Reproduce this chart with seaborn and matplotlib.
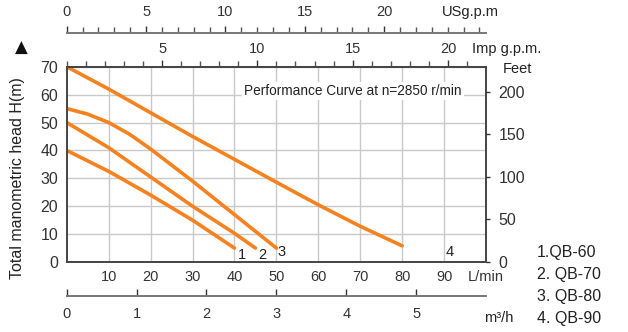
import numpy as np
import pandas as pd
import matplotlib
matplotlib.use("Agg")
import matplotlib.pyplot as plt
import seaborn as sns

# 曲线数据 (流量 L/min, 扬程 m)
flow_qb60 = [0, 10, 20, 30, 40]
head_qb60 = [40, 32.5, 24, 15, 5]
flow_qb70 = [0, 10, 20, 30, 40, 45]
head_qb70 = [50, 41, 30.5, 20, 10.3, 5]
flow_qb80 = [0, 5, 10, 15, 20, 30, 40, 50]
head_qb80 = [55, 53, 50, 45.8, 40.5, 29, 17, 5]
flow_qb90 = [0, 10, 20, 30, 40, 50, 60, 70, 80]
head_qb90 = [70, 62, 53.5, 45, 36.8, 28.6, 20.5, 12.8, 5.8]

curve_ids = ['1', '2', '3', '4']
curve_names = ['1.QB-60', '2. QB-70', '3. QB-80', '4. QB-90']
id_pos_x = [41.7, 46.6, 51.2, 91.4]
id_pos_y = [2.5, 2.5, 3.7, 3.5]

lpm_ticks = [10, 20, 30, 40, 50, 60, 70, 80, 90, 100]
lpm_labels = ['10', '20', '30', '40', '50', '60', '70', '80', '90', 'L/min']
head_ticks = [0, 10, 20, 30, 40, 50, 60, 70]
feet_ticks = [0, 50, 100, 150, 200]
usgpm_ticks = [0, 5, 10, 15, 20]
impgpm_ticks = [5, 10, 15, 20]
m3h_ticks = [0, 1, 2, 3, 4, 5]

sns.set_style("white")
plt.rcParams['font.family'] = ['Liberation Sans', 'DejaVu Sans']

df = pd.concat([
    pd.DataFrame({'flow': flow_qb60, 'head': head_qb60, 'model': 'QB-60'}),
    pd.DataFrame({'flow': flow_qb70, 'head': head_qb70, 'model': 'QB-70'}),
    pd.DataFrame({'flow': flow_qb80, 'head': head_qb80, 'model': 'QB-80'}),
    pd.DataFrame({'flow': flow_qb90, 'head': head_qb90, 'model': 'QB-90'}),
])

orange = '#F5821F'
dark = '#444444'
grid_c = '#c9c9c9'

fig = plt.figure(figsize=(6.28, 3.32), dpi=100)
ax = fig.add_axes([0.1062, 0.2108, 0.6678, 0.5883])

sns.lineplot(data=df, x='flow', y='head', units='model', estimator=None,
             color=orange, linewidth=2.6, ax=ax, legend=False)

ax.set_xlim(0, 100)
ax.set_ylim(0, 70)
ax.set_xticks(lpm_ticks)
ax.set_xticklabels(lpm_labels, fontsize=10.5)
ax.set_yticks(head_ticks)
ax.set_yticklabels([str(t) for t in head_ticks], fontsize=11.5)
ax.tick_params(axis='both', length=0, pad=6, colors='#333333')
ax.set_xlabel('')
ax.set_ylabel('')
ax.grid(True, color=grid_c, linewidth=1.0)
for s in ax.spines.values():
    s.set_color(dark)
    s.set_linewidth(1.4)

# 曲线编号
for cid, x, y in zip(curve_ids, id_pos_x, id_pos_y):
    ax.text(x, y, cid, fontsize=10.5, ha='center', va='center', color='#222222')

ax.text(0.683, 0.876, 'Performance Curve at n=2850 r/min', transform=ax.transAxes,
        fontsize=9.8, ha='center', va='center', color='#222222',
        bbox=dict(facecolor='white', edgecolor='none', pad=1.5))

# 右侧 Feet 轴
ax2 = ax.twinx()
ax2.set_ylim(0, 70 / 0.3048)
ax2.set_yticks(feet_ticks)
ax2.set_yticklabels([str(t) for t in feet_ticks], fontsize=11.5)
ax2.tick_params(axis='y', length=3, width=1, direction='out', pad=6, colors='#333333')
for s in ax2.spines.values():
    s.set_visible(False)
ax2.grid(False)

# Imp g.p.m 轴 (顶部)
imp = ax.secondary_xaxis('top', functions=(lambda x: x / 4.546, lambda x: x * 4.546))
imp.set_xticks(impgpm_ticks)
imp.set_xticks(np.arange(0, 23), minor=True)
imp.tick_params(which='major', length=5, width=1, direction='out', labelsize=10.5, pad=3, colors='#333333')
imp.tick_params(which='minor', length=4, width=1, direction='out', colors='#555555')
imp.spines['top'].set_color(dark)
imp.spines['top'].set_linewidth(1.4)

# US g.p.m 轴
us = ax.secondary_xaxis(1.1726, functions=(lambda x: x / 3.785, lambda x: x * 3.785))
us.set_xticks(usgpm_ticks)
us.set_xticks(np.arange(0, 27), minor=True)
us.tick_params(which='major', length=5, width=1, direction='out', labelsize=10.5, pad=5, colors='#333333')
us.tick_params(which='minor', length=4, width=1, direction='out', colors='#555555')
us.spines['top'].set_color('#777777')
us.spines['top'].set_linewidth(1.4)

# m³/h 轴 (底部)
m3 = ax.secondary_xaxis(-0.174, functions=(lambda x: x * 0.06, lambda x: x / 0.06))
m3.set_xticks(m3h_ticks)
m3.tick_params(which='major', length=5, width=1, direction='in', labelsize=10.5, pad=8, colors='#333333')
m3.spines['bottom'].set_color('#777777')
m3.spines['bottom'].set_linewidth(1.4)

# 单位标签
fig.text(470 / 628, 1 - 12 / 332, 'USg.p.m', fontsize=10.5, ha='center', va='center', color='#222222')
fig.text(507 / 628, 1 - 49 / 332, 'Imp g.p.m.', fontsize=10.5, ha='center', va='center', color='#222222')
fig.text(517 / 628, 1 - 69 / 332, 'Feet', fontsize=10.5, ha='center', va='center', color='#222222')
fig.text(499 / 628, 1 - 318 / 332, 'm³/h', fontsize=10.5, ha='center', va='center', color='#222222')

# 型号列表
for i, name in enumerate(curve_names):
    fig.text(537 / 628, 1 - (252 + i * 22) / 332, name, fontsize=11.5,
             ha='left', va='center', color='#222222')

# 纵轴标题和箭头
fig.text(18 / 628, 1 - 178 / 332, 'Total manometric head H(m)', rotation=90,
         fontsize=11.5, ha='center', va='center', color='#222222')
fig.text(21 / 628, 1 - 48 / 332, '▲', fontsize=12, ha='center', va='center',
         color='#111111', family=['DejaVu Sans'])

fig.savefig('out.png', dpi=100)
